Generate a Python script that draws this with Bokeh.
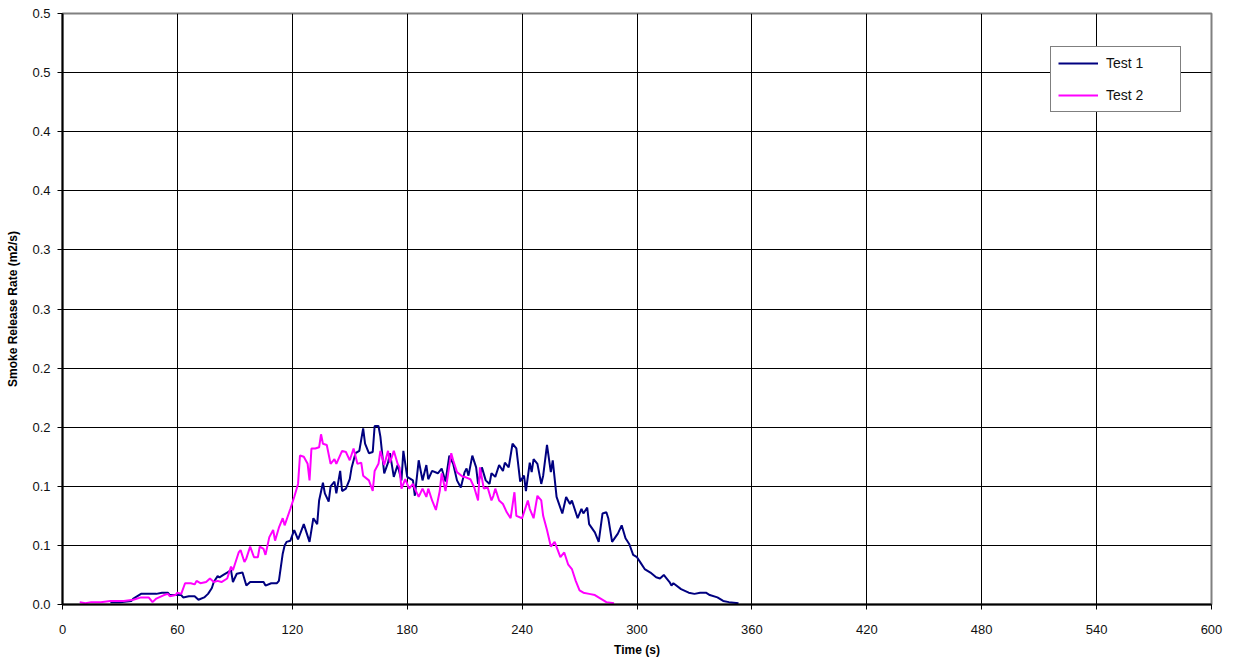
from bokeh.plotting import figure
from bokeh.models import Range1d, FixedTicker, Legend, LegendItem
from bokeh.embed import file_html
from bokeh.resources import INLINE

# ---- data ----
test1_time = [25, 30, 36, 37, 41, 46, 49, 52, 55, 56, 62, 63, 66, 69, 71, 74, 76, 78, 79, 81,
              82, 84, 86, 88, 89, 91, 94, 96, 98, 102, 105, 106, 109, 112, 113, 115, 116, 117, 119, 121,
              123, 126, 129, 131, 133, 134, 136, 137, 139, 140, 142, 143, 145, 146, 148, 150, 151, 153, 155, 157,
              158, 160, 162, 163, 165, 166, 168, 170, 171, 173, 175, 177, 178, 180, 183, 184, 186, 188, 190, 191,
              193, 196, 198, 200, 202, 204, 206, 208, 210, 211, 212, 214, 216, 217, 219, 221, 223, 224, 226, 228,
              230, 231, 233, 235, 237, 239, 241, 242, 244, 245, 246, 248, 250, 251, 253, 255, 256, 258, 261, 263,
              265, 266, 269, 271, 272, 274, 275, 278, 280, 282, 284, 285, 287, 290, 292, 294, 296, 298, 300, 302,
              304, 307, 310, 312, 314, 315, 317, 318, 319, 323, 327, 330, 333, 336, 338, 342, 345, 348, 353]
test1_srr = [0.002, 0.002, 0.003, 0.005, 0.009, 0.009, 0.009, 0.010, 0.010, 0.008, 0.008, 0.006, 0.007, 0.007, 0.004, 0.006, 0.009, 0.014, 0.019, 0.024,
             0.023, 0.025, 0.027, 0.029, 0.019, 0.026, 0.027, 0.016, 0.019, 0.019, 0.019, 0.016, 0.018, 0.018, 0.020, 0.043, 0.050, 0.053, 0.054, 0.063,
             0.055, 0.068, 0.053, 0.073, 0.068, 0.088, 0.103, 0.094, 0.087, 0.100, 0.104, 0.094, 0.113, 0.096, 0.098, 0.106, 0.116, 0.128, 0.130, 0.149,
             0.136, 0.128, 0.129, 0.151, 0.151, 0.142, 0.111, 0.120, 0.128, 0.108, 0.118, 0.105, 0.130, 0.108, 0.105, 0.092, 0.122, 0.105, 0.118, 0.106,
             0.113, 0.111, 0.115, 0.104, 0.126, 0.119, 0.105, 0.099, 0.112, 0.115, 0.109, 0.126, 0.116, 0.102, 0.116, 0.105, 0.102, 0.111, 0.108, 0.118,
             0.113, 0.120, 0.116, 0.136, 0.132, 0.104, 0.109, 0.096, 0.120, 0.112, 0.123, 0.119, 0.102, 0.109, 0.135, 0.112, 0.122, 0.091, 0.077, 0.091,
             0.085, 0.088, 0.073, 0.081, 0.077, 0.082, 0.068, 0.061, 0.053, 0.077, 0.078, 0.073, 0.053, 0.060, 0.067, 0.056, 0.051, 0.042, 0.040, 0.035,
             0.030, 0.027, 0.023, 0.022, 0.025, 0.023, 0.019, 0.016, 0.018, 0.013, 0.010, 0.009, 0.010, 0.010, 0.008, 0.006, 0.003, 0.002, 0.001]

test2_time = [9, 12, 15, 20, 25, 27, 29, 32, 37, 41, 45, 47, 49, 53, 55, 56, 59, 60, 62, 64,
              67, 69, 70, 72, 75, 77, 79, 81, 83, 86, 88, 89, 92, 93, 95, 96, 98, 100, 102, 103,
              105, 106, 108, 110, 111, 113, 115, 116, 119, 121, 123, 124, 126, 128, 129, 130, 132, 134, 135, 136,
              138, 140, 142, 143, 146, 148, 150, 152, 154, 156, 157, 160, 162, 163, 165, 166, 168, 170, 171, 173,
              175, 176, 177, 179, 181, 183, 184, 186, 188, 190, 191, 193, 195, 197, 198, 200, 203, 204, 206, 209,
              210, 213, 215, 217, 218, 220, 222, 224, 225, 226, 228, 230, 232, 234, 236, 237, 240, 243, 244, 246,
              248, 250, 251, 253, 255, 257, 260, 262, 264, 266, 268, 270, 272, 275, 278, 281, 284, 288]
test2_srr = [0.002, 0.001, 0.002, 0.002, 0.003, 0.003, 0.003, 0.003, 0.004, 0.006, 0.006, 0.002, 0.005, 0.008, 0.009, 0.007, 0.008, 0.010, 0.009, 0.018,
             0.018, 0.017, 0.020, 0.018, 0.019, 0.022, 0.019, 0.020, 0.019, 0.022, 0.032, 0.029, 0.044, 0.046, 0.036, 0.039, 0.049, 0.040, 0.040, 0.049,
             0.047, 0.042, 0.057, 0.063, 0.054, 0.065, 0.073, 0.067, 0.081, 0.091, 0.102, 0.126, 0.125, 0.119, 0.105, 0.132, 0.132, 0.133, 0.144, 0.136,
             0.135, 0.119, 0.123, 0.119, 0.130, 0.129, 0.122, 0.132, 0.119, 0.120, 0.109, 0.105, 0.096, 0.113, 0.119, 0.130, 0.118, 0.130, 0.120, 0.130,
             0.119, 0.116, 0.098, 0.106, 0.098, 0.102, 0.098, 0.091, 0.098, 0.091, 0.098, 0.088, 0.080, 0.096, 0.111, 0.096, 0.128, 0.122, 0.112, 0.108,
             0.108, 0.106, 0.099, 0.088, 0.116, 0.098, 0.099, 0.088, 0.092, 0.098, 0.088, 0.085, 0.078, 0.073, 0.095, 0.075, 0.073, 0.088, 0.081, 0.073,
             0.092, 0.088, 0.075, 0.063, 0.049, 0.053, 0.040, 0.044, 0.034, 0.030, 0.020, 0.012, 0.010, 0.009, 0.008, 0.005, 0.002, 0.001]

series_names = ["Test 1", "Test 2"]
x_ticks = [0, 60, 120, 180, 240, 300, 360, 420, 480, 540, 600]
y_ticks = [0.0, 0.05, 0.1, 0.15, 0.2, 0.25, 0.3, 0.35, 0.4, 0.45, 0.5]
y_tick_labels = ["0.0", "0.1", "0.1", "0.2", "0.2", "0.3", "0.3", "0.4", "0.4", "0.5", "0.5"]

FONT = "Liberation Sans"

p = figure(width=1223, height=661, output_backend="svg", toolbar_location=None,
           x_range=Range1d(0, 600), y_range=Range1d(0, 0.5),
           min_border_left=62, min_border_top=13, min_border_right=12, min_border_bottom=57)
p.background_fill_color = "white"
p.border_fill_color = "white"
p.outline_line_color = "#808080"
p.outline_line_width = 2

# grids
p.xgrid.ticker = FixedTicker(ticks=x_ticks[1:-1])
p.ygrid.ticker = FixedTicker(ticks=y_ticks[1:-1])
for g in (p.xgrid, p.ygrid):
    g.grid_line_color = "black"
    g.grid_line_width = 1

# axes
p.xaxis.ticker = FixedTicker(ticks=x_ticks)
p.yaxis.ticker = FixedTicker(ticks=y_ticks)
p.yaxis.major_label_overrides = {t: l for t, l in zip(y_ticks, y_tick_labels)}
p.xaxis.axis_label = "Time (s)"
p.yaxis.axis_label = "Smoke Release Rate (m2/s)"
for ax in (p.xaxis, p.yaxis):
    ax.axis_line_color = "black"
    ax.axis_line_width = 2
    ax.major_tick_line_color = "black"
    ax.major_tick_line_width = 1
    ax.major_tick_in = 0
    ax.major_tick_out = 5
    ax.minor_tick_line_color = None
    ax.major_label_text_font = FONT
    ax.major_label_text_font_size = "13px"
    ax.major_label_text_color = "#111111"
    ax.axis_label_text_font = FONT
    ax.axis_label_text_font_size = "12px"
    ax.axis_label_text_font_style = "bold"
    ax.axis_label_text_color = "black"
p.xaxis.major_label_standoff = 15
p.xaxis.axis_label_standoff = 6
p.yaxis.major_label_standoff = 7
p.yaxis.axis_label_standoff = 9

r1 = p.line(test1_time, test1_srr, line_color="#000080", line_width=2)
r2 = p.line(test2_time, test2_srr, line_color="#FF00FF", line_width=2)

legend = Legend(items=[LegendItem(label=series_names[0], renderers=[r1]),
                       LegendItem(label=series_names[1], renderers=[r2])],
                location=(988, 492), orientation="vertical")
legend.border_line_color = "black"
legend.border_line_width = 1.5
legend.background_fill_color = "white"
legend.background_fill_alpha = 1.0
legend.padding = 7
legend.spacing = 14
legend.margin = 0
legend.glyph_width = 40
legend.glyph_height = 18
legend.label_height = 18
legend.label_width = 67
legend.label_standoff = 8
legend.label_text_font = FONT
legend.label_text_font_size = "14px"
legend.label_text_color = "#111111"
p.add_layout(legend)

open("out.html", "w").write(file_html(p, INLINE))
